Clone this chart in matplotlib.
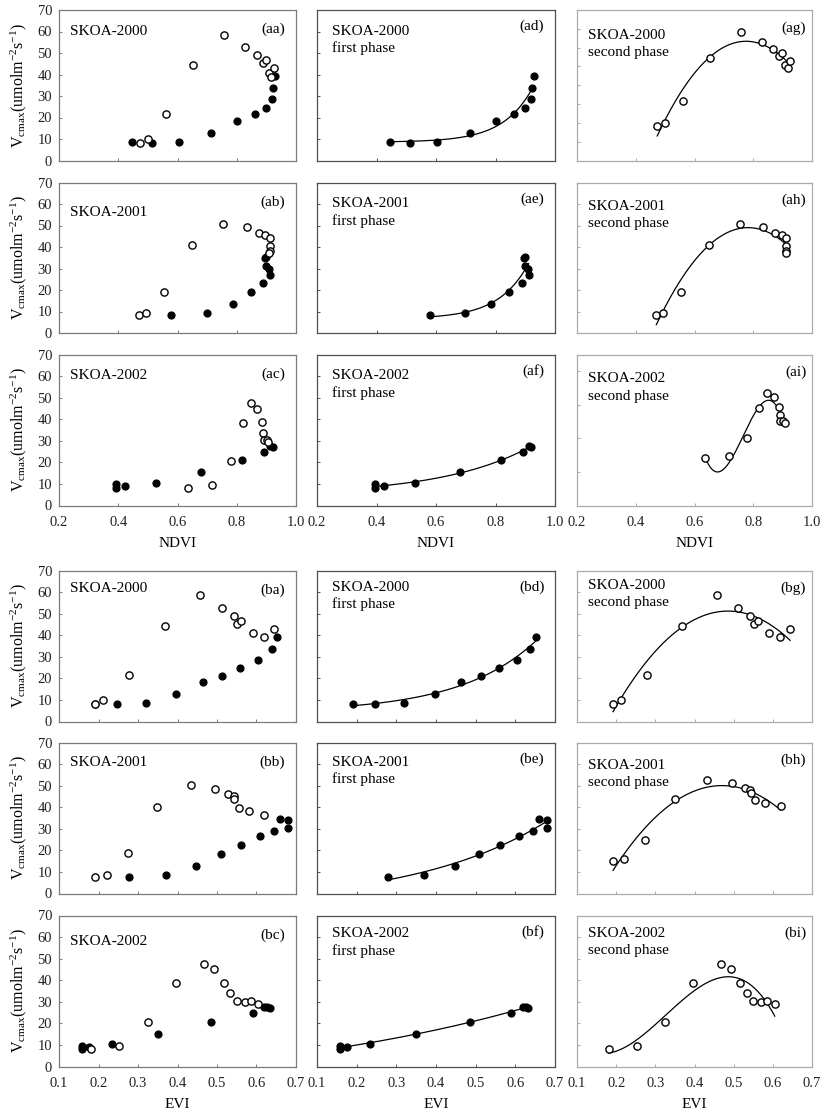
import numpy as np
import matplotlib
matplotlib.use('Agg')
import matplotlib.pyplot as plt

plt.rcParams['font.family'] = ['Liberation Serif', 'DejaVu Serif']
plt.rcParams['mathtext.fontset'] = 'custom'
plt.rcParams['mathtext.rm'] = 'Liberation Serif'
plt.rcParams['mathtext.it'] = 'Liberation Serif:italic'

# ---- data ----
# NDVI, first phase (filled) and second phase (open)
ndvi_2000_first_x = [0.447, 0.514, 0.605, 0.714, 0.802, 0.861, 0.900, 0.918, 0.923, 0.928]
ndvi_2000_first_y = [8.4, 8.1, 8.8, 13.0, 18.6, 21.5, 24.6, 28.8, 33.8, 39.3]
ndvi_2000_second_x = [0.473, 0.499, 0.562, 0.654, 0.757, 0.829, 0.868, 0.889, 0.899, 0.908, 0.917, 0.926]
ndvi_2000_second_y = [8.1, 9.9, 21.7, 44.4, 58.5, 52.8, 49.1, 45.5, 46.9, 40.9, 39.0, 43.1]

ndvi_2001_first_x = [0.579, 0.698, 0.786, 0.847, 0.888, 0.897, 0.900, 0.900, 0.910, 0.911]
ndvi_2001_first_y = [8.4, 9.1, 13.3, 19.0, 23.1, 34.7, 35.3, 31.1, 29.7, 27.1]
ndvi_2001_second_x = [0.470, 0.494, 0.553, 0.648, 0.754, 0.833, 0.875, 0.897, 0.911, 0.913, 0.912, 0.910]
ndvi_2001_second_y = [8.2, 9.3, 19.2, 40.7, 50.8, 49.1, 46.6, 45.8, 44.1, 40.3, 38.2, 37.0]

ndvi_2002_first_x = [0.394, 0.394, 0.424, 0.529, 0.680, 0.817, 0.893, 0.912, 0.921]
ndvi_2002_first_y = [9.9, 8.0, 9.1, 10.5, 15.3, 21.0, 25.0, 27.8, 27.1]
ndvi_2002_second_x = [0.636, 0.718, 0.779, 0.821, 0.847, 0.870, 0.886, 0.890, 0.891, 0.901, 0.907]
ndvi_2002_second_y = [8.2, 9.3, 20.4, 38.2, 47.3, 44.7, 38.7, 33.8, 30.2, 30.5, 29.3]

# EVI
evi_2000_first_x = [0.190, 0.246, 0.319, 0.397, 0.464, 0.513, 0.559, 0.605, 0.638, 0.651]
evi_2000_first_y = [8.2, 8.0, 8.7, 12.8, 18.4, 21.3, 24.6, 28.7, 33.5, 39.3]
evi_2000_second_x = [0.192, 0.212, 0.278, 0.369, 0.457, 0.512, 0.542, 0.551, 0.562, 0.590, 0.618, 0.644]
evi_2000_second_y = [8.0, 9.9, 21.6, 44.3, 58.6, 52.8, 49.1, 45.4, 46.8, 40.8, 39.3, 43.0]

evi_2001_first_x = [0.278, 0.371, 0.447, 0.509, 0.562, 0.608, 0.644, 0.659, 0.681, 0.681]
evi_2001_first_y = [7.7, 8.5, 12.9, 18.4, 22.3, 26.5, 29.1, 34.7, 33.9, 30.5]
evi_2001_second_x = [0.192, 0.221, 0.274, 0.349, 0.433, 0.496, 0.529, 0.542, 0.544, 0.555, 0.580, 0.620]
evi_2001_second_y = [7.7, 8.7, 18.6, 40.3, 50.3, 48.5, 46.0, 45.2, 43.6, 39.5, 38.1, 36.5]
evi_2001_second_y_bh = [15.1, 16.2, 24.8, 44.0, 52.8, 51.2, 48.9, 48.2, 46.6, 43.2, 41.8, 40.5]

evi_2002_first_x = [0.158, 0.158, 0.176, 0.234, 0.350, 0.485, 0.590, 0.620, 0.627, 0.633]
evi_2002_first_y = [9.7, 8.2, 9.1, 10.5, 15.1, 20.8, 25.0, 27.8, 27.4, 27.2]
evi_2002_second_x = [0.181, 0.253, 0.325, 0.396, 0.468, 0.492, 0.517, 0.534, 0.550, 0.570, 0.586, 0.605]
evi_2002_second_y = [8.2, 9.3, 20.5, 38.6, 47.6, 45.1, 38.7, 33.9, 30.5, 30.0, 30.2, 29.1]

years = ['2000', '2001', '2002']
ndvi_ticks = [0.2, 0.4, 0.6, 0.8, 1.0]
ndvi_ticklabels = ['0.2', '0.4', '0.6', '0.8', '1.0']
evi_ticks = [0.1, 0.2, 0.3, 0.4, 0.5, 0.6, 0.7]
evi_ticklabels = ['0.1', '0.2', '0.3', '0.4', '0.5', '0.6', '0.7']
v_ticks = [0, 10, 20, 30, 40, 50, 60, 70]
v_ticklabels = ['0', '10', '20', '30', '40', '50', '60', '70']

ylabel = r'V$_{\mathrm{cmax}}$(umolm$^{\mathrm{-2}}$s$^{\mathrm{-1}}$)'


def fit_curve(x, y, kind):
    x = np.asarray(x)
    y = np.asarray(y)
    xs = np.linspace(x.min(), x.max(), 200)
    if kind == 'exp':
        # y = y0 + a*exp(b*x), least squares over b
        best = None
        for b in np.linspace(0.5, 25, 500):
            A = np.column_stack([np.ones_like(x), np.exp(b * x)])
            c = np.linalg.lstsq(A, y, rcond=None)[0]
            sse = np.sum((A @ c - y) ** 2)
            if best is None or sse < best[0]:
                best = (sse, b, c)
        _, b, c = best
        return xs, c[0] + c[1] * np.exp(b * xs)
    deg = {'poly2': 2, 'poly3': 3}[kind]
    p = np.polyfit(x, y, deg)
    return xs, np.polyval(p, xs)


W, H = 832, 1112
fig = plt.figure(figsize=(W / 100, H / 100), dpi=100)

cols_px = [(59, 296), (317, 555), (577, 812)]
rows_px = [(10, 160.5), (182.5, 333), (354.5, 505.5),
           (570.5, 721.5), (742.5, 893.5), (915.5, 1066.5)]
spine_col = ['#7a7a7a', '#505050', '#ababab']

ndvi_sets = [(ndvi_2000_first_x, ndvi_2000_first_y, ndvi_2000_second_x, ndvi_2000_second_y, ndvi_2000_second_y),
             (ndvi_2001_first_x, ndvi_2001_first_y, ndvi_2001_second_x, ndvi_2001_second_y, ndvi_2001_second_y),
             (ndvi_2002_first_x, ndvi_2002_first_y, ndvi_2002_second_x, ndvi_2002_second_y, ndvi_2002_second_y)]
evi_sets = [(evi_2000_first_x, evi_2000_first_y, evi_2000_second_x, evi_2000_second_y, evi_2000_second_y),
            (evi_2001_first_x, evi_2001_first_y, evi_2001_second_x, evi_2001_second_y, evi_2001_second_y_bh),
            (evi_2002_first_x, evi_2002_first_y, evi_2002_second_x, evi_2002_second_y, evi_2002_second_y)]

# y range of the "second phase" panels (some were auto-scaled below zero)
second_ylim = {('a', 0): (-10, 70), ('a', 1): (0, 70), ('a', 2): (-20, 70),
               ('b', 0): (0, 70), ('b', 1): (0, 70), ('b', 2): (0, 70)}
second_ticks = {('a', 0): [0, 10, 20, 30, 40, 50, 60], ('a', 2): [-20, 0, 20, 40, 60]}
second_fit = {('a', 0): 'poly2', ('a', 1): 'poly2', ('a', 2): 'poly3',
              ('b', 0): 'poly2', ('b', 1): 'poly2', ('b', 2): 'poly3'}
tag_letters = 'abcdefghi'

# label anchor heights (axes fraction) per panel: col1 name, col2 name/phase, col3 name/phase
label_y = {('a', 0): (0.86, 0.86, 0.745, 0.83, 0.715),
           ('a', 1): (0.80, 0.86, 0.745, 0.84, 0.725),
           ('a', 2): (0.86, 0.86, 0.745, 0.84, 0.725),
           ('b', 0): (0.88, 0.89, 0.775, 0.90, 0.785),
           ('b', 1): (0.87, 0.87, 0.755, 0.85, 0.735),
           ('b', 2): (0.83, 0.88, 0.765, 0.88, 0.765)}

fs_text = 11
fs_tick = 10.5


def make_ax(ci, ri):
    l, r = cols_px[ci]
    t, b = rows_px[ri]
    ax = fig.add_axes([l / W, 1 - b / H, (r - l) / W, (b - t) / H])
    for s in ax.spines.values():
        s.set_color(spine_col[ci])
        s.set_linewidth(0.9)
    ax.tick_params(direction='in', length=2.5, width=0.7, colors=spine_col[ci],
                   labelcolor='#222222', labelsize=fs_tick)
    ax.tick_params(axis='y', pad=5)
    ax.tick_params(axis='x', pad=7.5)
    return ax


for block, (prefix, sets, xticks, xticklabels, xname) in enumerate(
        [('a', ndvi_sets, ndvi_ticks, ndvi_ticklabels, 'NDVI'),
         ('b', evi_sets, evi_ticks, evi_ticklabels, 'EVI')]):
    for yi, (fx, fy, sx, sy_all, sy_second) in enumerate(sets):
        ri = block * 3 + yi
        year = years[yi]
        last_row = yi == 2
        ly = label_y[(prefix, yi)]

        # column 1: both phases
        ax = make_ax(0, ri)
        ax.plot(fx, fy, 'o', color='black', ms=4.9, zorder=3, clip_on=False)
        ax.plot(sx, sy_all, 'o', mfc='white', mec='black', mew=1.0, ms=5.2,
                zorder=4, clip_on=False)
        ax.text(0.045, ly[0], 'SKOA-' + year, transform=ax.transAxes,
                fontsize=fs_text, va='center', ha='left')
        ax.text(0.955, 0.87, '(' + prefix + tag_letters[yi] + ')', transform=ax.transAxes,
                fontsize=fs_text, va='center', ha='right')
        ax.set_ylim(0, 70)
        ax.set_yticks(v_ticks)
        ax.set_yticklabels(v_ticklabels)
        ax.set_ylabel(ylabel, fontsize=11.5, labelpad=6)
        cols_axes = [ax]

        # column 2: first phase with fit
        ax = make_ax(1, ri)
        cx, cy = fit_curve(fx, fy, 'exp')
        ax.plot(cx, cy, '-', color='black', lw=0.9, zorder=2)
        ax.plot(fx, fy, 'o', color='black', ms=4.9, zorder=3, clip_on=False)
        ax.text(0.065, ly[1], 'SKOA-' + year, transform=ax.transAxes,
                fontsize=fs_text, va='center', ha='left')
        ax.text(0.065, ly[2], 'first phase', transform=ax.transAxes,
                fontsize=fs_text, va='center', ha='left')
        ax.text(0.955, 0.89, '(' + prefix + tag_letters[3 + yi] + ')', transform=ax.transAxes,
                fontsize=fs_text, va='center', ha='right')
        ax.set_ylim(0, 70)
        ax.set_yticks(v_ticks)
        ax.set_yticklabels([])
        cols_axes.append(ax)

        # column 3: second phase with fit
        ax = make_ax(2, ri)
        cx, cy = fit_curve(sx, sy_second, second_fit[(prefix, yi)])
        ax.plot(cx, cy, '-', color='black', lw=0.9, zorder=2)
        ax.plot(sx, sy_second, 'o', mfc='white', mec='black', mew=1.0, ms=5.2,
                zorder=4, clip_on=False)
        ax.text(0.045, ly[3], 'SKOA-' + year, transform=ax.transAxes,
                fontsize=fs_text, va='center', ha='left')
        ax.text(0.045, ly[4], 'second phase', transform=ax.transAxes,
                fontsize=fs_text, va='center', ha='left')
        ax.text(0.975, 0.88, '(' + prefix + tag_letters[6 + yi] + ')', transform=ax.transAxes,
                fontsize=fs_text, va='center', ha='right')
        ax.set_ylim(*second_ylim[(prefix, yi)])
        ax.set_yticks(second_ticks.get((prefix, yi), v_ticks))
        ax.set_yticklabels([])
        cols_axes.append(ax)

        for a in cols_axes:
            a.set_xlim(xticks[0], xticks[-1])
            a.set_xticks(xticks)
            if last_row:
                a.set_xticklabels(xticklabels)
                a.set_xlabel(xname, fontsize=11, labelpad=6)
            else:
                a.set_xticklabels([])

fig.savefig('out.png', dpi=100)
